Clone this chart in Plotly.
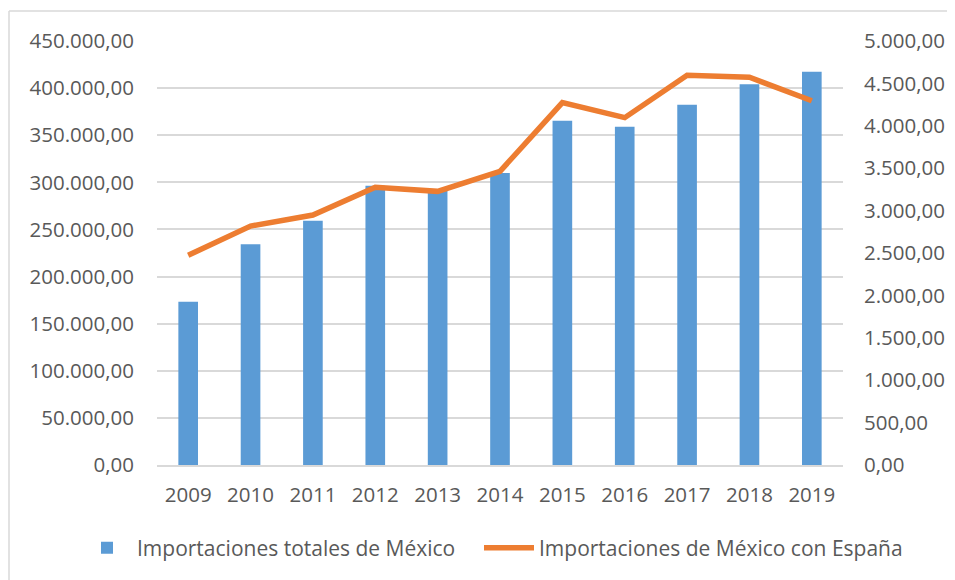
import plotly.graph_objects as go

years = ["2009", "2010", "2011", "2012", "2013", "2014", "2015", "2016", "2017", "2018", "2019"]
importaciones_totales = [173300, 234200, 259300, 296400, 292600, 309900, 365400, 359100, 382400, 404000, 417400]
importaciones_espana = [2473, 2818, 2948, 3274, 3227, 3463, 4273, 4096, 4595, 4572, 4296]

name_bar = "Importaciones totales de México"
name_line = "Importaciones de México con España"

font_family = "Open Sans"
txt_color = "#595959"
grid_color = "#D9D9D9"
FS = 21      # legend
FT = 20.5    # tick labels

# page body has an 8px margin: figure is drawn 8px right/down
OFF = 8
PL, PT, PW, PH = 157, 41, 686, 424  # plot area in screen px


def px(xs):
    return (xs - PL) / PW


def py(ys):
    return (PT + PH - ys) / PH


fig = go.Figure()
fig.add_trace(go.Bar(
    x=years, y=importaciones_totales, name=name_bar,
    marker=dict(color="#5B9BD5", line=dict(width=0)),
    yaxis="y", legend="legend"
))
fig.add_trace(go.Scatter(
    x=years, y=importaciones_espana, name=name_line, mode="lines",
    line=dict(color="#ED7D31", width=5.5),
    yaxis="y2", legend="legend2"
))

leg_common = dict(orientation="h", yanchor="middle", y=py(548),
                  xanchor="left", font=dict(size=FS, color=txt_color),
                  bgcolor="rgba(0,0,0,0)", itemwidth=50)

W, H = 955 - OFF, 580 - OFF
border = dict(color="#D9D9D9", width=1.5)
fig.update_layout(
    width=W, height=H,
    margin=dict(l=PL - OFF, r=W - (PL - OFF) - PW, t=PT - OFF, b=H - (PT - OFF) - PH, autoexpand=False),
    paper_bgcolor="white", plot_bgcolor="white",
    separators=",.",
    font=dict(family=font_family, size=FT, color=txt_color),
    bargap=0.685,
    showlegend=True,
    legend=dict(leg_common, x=px(77)),
    legend2=dict(leg_common, x=px(479)),
    xaxis=dict(type="category", showgrid=False, showline=True, linecolor=grid_color, linewidth=2,
               automargin=False,
               ticks="", ticklabelstandoff=10, tickfont=dict(size=FT, color=txt_color)),
    yaxis=dict(range=[0, 450000], dtick=50000, tickformat=",.2f", showgrid=True,
               gridcolor=grid_color, gridwidth=2, zeroline=False, showline=False,
               automargin=False,
               ticks="", ticklabelstandoff=22, tickfont=dict(size=FT, color=txt_color)),
    yaxis2=dict(range=[0, 5000], dtick=500, tickformat=",.2f", overlaying="y", side="right",
                showgrid=False, zeroline=False, showline=False, automargin=False,
                ticks="", ticklabelstandoff=20, tickfont=dict(size=FT, color=txt_color)),
    shapes=[
        dict(type="line", xref="paper", yref="paper",
             x0=px(OFF + 1), x1=px(955), y0=py(11), y1=py(11), line=border, layer="below"),
        dict(type="line", xref="paper", yref="paper",
             x0=px(OFF + 1), x1=px(OFF + 1), y0=py(11), y1=py(580), line=border, layer="below"),
    ],
)

fig.write_html("out.html")
